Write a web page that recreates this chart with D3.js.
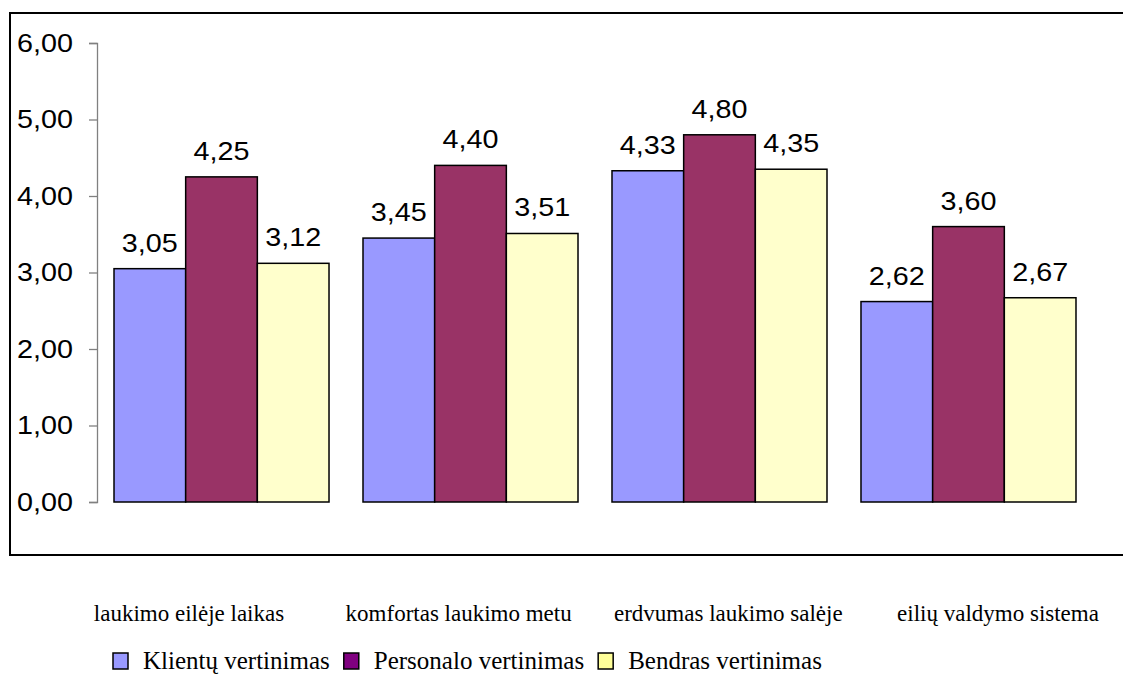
<!DOCTYPE html>
<html>
<head>
<meta charset="utf-8">
<script src="https://cdn.jsdelivr.net/npm/d3@7"></script>
<style>
  html, body { margin: 0; padding: 0; background: #fff; }
  svg { display: block; }
</style>
</head>
<body>
<svg id="chart" width="1123" height="692"></svg>
<script>
// Categories and series values
const categories = [
  "laukimo eilėje laikas",
  "komfortas laukimo metu",
  "erdvumas laukimo salėje",
  "eilių valdymo sistema"
];
const seriesNames = ["Klientų vertinimas", "Personalo vertinimas", "Bendras vertinimas"];
const klientuValues = [3.05, 3.45, 4.33, 2.62];
const personaloValues = [4.25, 4.40, 4.80, 3.60];
const bendrasValues = [3.12, 3.51, 4.35, 2.67];
const yTicks = [0, 1, 2, 3, 4, 5, 6];

const barColors = ["#9999FF", "#993366", "#FFFFCC"];
const legendColors = ["#9999FF", "#800080", "#FFFF99"];

const seriesValues = [klientuValues, personaloValues, bendrasValues];
const rows = categories.map((c, i) => ({
  category: c,
  values: seriesNames.map((s, j) => ({ series: s, index: j, value: seriesValues[j][i] }))
}));

const fmt = v => d3.format(".2f")(v).replace(".", ",");

const numFont = '"Liberation Sans", Arial, sans-serif';
const serifFont = '"Liberation Serif", "Times New Roman", serif';
const sx = 1.15; // slight horizontal stretch of the numeric labels

const svg = d3.select("#chart");

// Outer frame (its right side runs past the canvas edge)
svg.append("rect")
  .attr("x", 10).attr("y", 13)
  .attr("width", 1130).attr("height", 542)
  .attr("fill", "none").attr("stroke", "#000").attr("stroke-width", 2);

const y = d3.scaleLinear().domain([0, 6]).range([502, 43]);
const x0 = d3.scaleBand().domain(categories).range([97, 1093])
  .paddingInner(0.1365).paddingOuter(0.0683);
const x1 = d3.scaleBand().domain(seriesNames).range([0, x0.bandwidth()]).padding(0);

// Y axis
const yAxis = d3.axisLeft(y).tickValues(yTicks).tickSize(8).tickPadding(16).tickFormat(fmt);
const gy = svg.append("g").attr("transform", "translate(97,0)").call(yAxis);
gy.select(".domain").attr("stroke", "#808080").attr("stroke-width", 1.3);
gy.selectAll(".tick line").attr("stroke", "#808080").attr("stroke-width", 1.3);
gy.selectAll(".tick text").each(function () {
  const t = d3.select(this);
  const tx = +t.attr("x");
  t.attr("x", null)
    .attr("transform", `translate(${tx},0) scale(${sx},1)`)
    .style("font-family", numFont)
    .style("font-size", "25px")
    .attr("fill", "#000");
});

// Bars
const groups = svg.append("g").selectAll("g")
  .data(rows).join("g")
  .attr("transform", d => `translate(${x0(d.category)},0)`);

groups.selectAll("rect")
  .data(d => d.values).join("rect")
  .attr("x", d => x1(d.series))
  .attr("y", d => y(d.value))
  .attr("width", x1.bandwidth())
  .attr("height", d => y(0) - y(d.value))
  .attr("fill", d => barColors[d.index])
  .attr("stroke", "#000").attr("stroke-width", 1.5);

// Value labels
groups.selectAll("text")
  .data(d => d.values).join("text")
  .attr("transform", d => `translate(${x1(d.series) + x1.bandwidth() / 2},${y(d.value) - 17}) scale(${sx},1)`)
  .attr("text-anchor", "middle")
  .style("font-family", numFont)
  .style("font-size", "25px")
  .attr("fill", "#000")
  .text(d => fmt(d.value));

// Category labels
const xl = d3.scalePoint().domain(categories).range([189, 998]);
svg.append("g").selectAll("text")
  .data(categories).join("text")
  .attr("x", d => xl(d))
  .attr("y", 621)
  .attr("text-anchor", "middle")
  .style("font-family", serifFont)
  .style("font-size", "23px")
  .attr("fill", "#000")
  .text(d => d);

// Legend
const legend = svg.append("g").attr("transform", "translate(113,0)");
let cx = 0;
seriesNames.forEach((name, i) => {
  const item = legend.append("g").attr("transform", `translate(${cx},0)`);
  item.append("rect")
    .attr("x", 0).attr("y", 653).attr("width", 15).attr("height", 16)
    .attr("fill", legendColors[i]).attr("stroke", "#000").attr("stroke-width", 1.5);
  const t = item.append("text")
    .attr("x", 30).attr("y", 669)
    .style("font-family", serifFont)
    .style("font-size", "25px")
    .attr("fill", "#000")
    .text(name);
  cx += 30 + t.node().getComputedTextLength() + 14;
});
</script>
</body>
</html>
